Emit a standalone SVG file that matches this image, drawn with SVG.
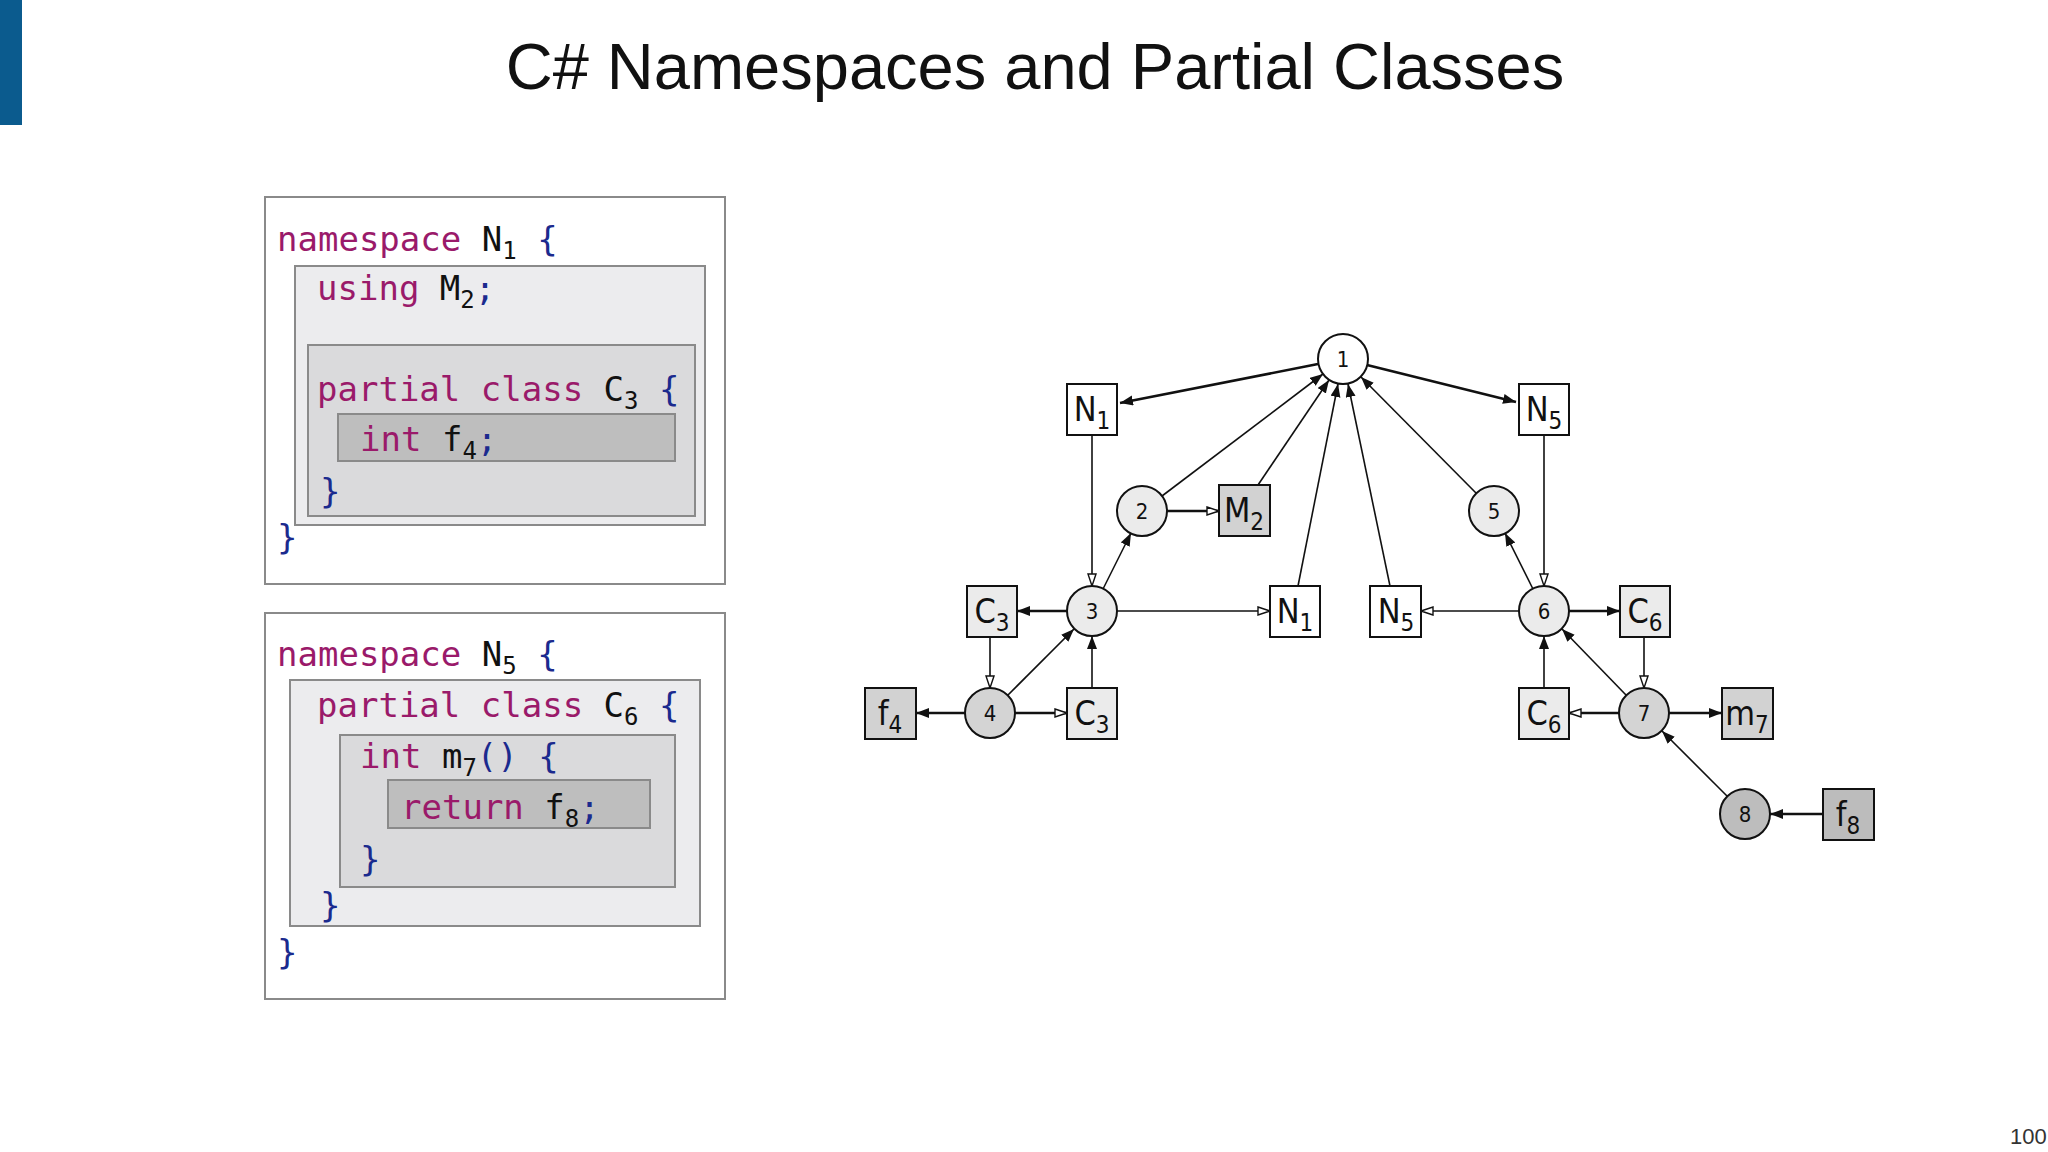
<svg xmlns="http://www.w3.org/2000/svg" width="2048" height="1152" viewBox="0 0 2048 1152">
<style>
.code{font-family:"DejaVu Sans Mono","Liberation Mono",monospace;font-size:34px}
.kw{fill:#9a1a6a}.br{fill:#1b2a8e}.id{fill:#111}
.sub{font-size:24px}
.box{stroke:#8a8a8a;stroke-width:2}
.n{stroke:#111;stroke-width:2}
.lbl{font-family:"DejaVu Sans Condensed","DejaVu Sans",sans-serif;font-size:34px;fill:#111;text-anchor:middle}
.num{font-family:"DejaVu Sans Condensed","DejaVu Sans",sans-serif;font-size:22px;fill:#111;text-anchor:middle}
.e{stroke:#111;stroke-width:1.6;fill:none}
.b{stroke-width:2.6}
.f{marker-end:url(#fa)}.o{marker-end:url(#oa)}
</style>
<defs>
<marker id="fa" markerUnits="userSpaceOnUse" markerWidth="14" markerHeight="12" refX="13" refY="5" orient="auto"><path d="M0,0 L13,5 L0,10 Z" fill="#111"/></marker>
<marker id="oa" markerUnits="userSpaceOnUse" markerWidth="14" markerHeight="12" refX="13" refY="5" orient="auto"><path d="M1,1 L13,5 L1,9 Z" fill="#fff" stroke="#111" stroke-width="1.4"/></marker>
</defs>
<rect width="2048" height="1152" fill="#fff"/>
<rect x="0" y="0" width="22" height="125" fill="#0b5b8e"/>
<text x="1035" y="89" font-family="Liberation Sans,Arial,sans-serif" font-size="65" text-anchor="middle" fill="#111">C# Namespaces and Partial Classes</text>
<text x="2010" y="1144" font-family="Liberation Sans,Arial,sans-serif" font-size="22" fill="#333">100</text>

<g id="code1">
<rect class="box" x="265" y="197" width="460" height="387" fill="#fff"/>
<rect class="box" x="295" y="266" width="410" height="259" fill="#ececee"/>
<rect class="box" x="308" y="345" width="387" height="171" fill="#dadadc"/>
<rect class="box" x="338" y="414" width="337" height="47" fill="#bebebe"/>
<text class="code" x="277" y="251"><tspan class="kw">namespace</tspan> <tspan class="id">N</tspan><tspan class="id sub" dy="8">1</tspan><tspan class="br" dy="-8"> {</tspan></text>
<text class="code" x="317" y="300"><tspan class="kw">using</tspan> <tspan class="id">M</tspan><tspan class="id sub" dy="8">2</tspan><tspan class="br" dy="-8">;</tspan></text>
<text class="code" x="317" y="401"><tspan class="kw">partial class</tspan> <tspan class="id">C</tspan><tspan class="id sub" dy="8">3</tspan><tspan class="br" dy="-8"> {</tspan></text>
<text class="code" x="360" y="451"><tspan class="kw">int</tspan> <tspan class="id">f</tspan><tspan class="id sub" dy="8">4</tspan><tspan class="br" dy="-8">;</tspan></text>
<text class="code br" x="320" y="503">}</text>
<text class="code br" x="277" y="549">}</text>
</g>
<g id="code2">
<rect class="box" x="265" y="613" width="460" height="386" fill="#fff"/>
<rect class="box" x="290" y="680" width="410" height="246" fill="#ececee"/>
<rect class="box" x="340" y="735" width="335" height="152" fill="#dadadc"/>
<rect class="box" x="388" y="780" width="262" height="48" fill="#bebebe"/>
<text class="code" x="277" y="666"><tspan class="kw">namespace</tspan> <tspan class="id">N</tspan><tspan class="id sub" dy="8">5</tspan><tspan class="br" dy="-8"> {</tspan></text>
<text class="code" x="317" y="717"><tspan class="kw">partial class</tspan> <tspan class="id">C</tspan><tspan class="id sub" dy="8">6</tspan><tspan class="br" dy="-8"> {</tspan></text>
<text class="code" x="360" y="768"><tspan class="kw">int</tspan> <tspan class="id">m</tspan><tspan class="id sub" dy="8">7</tspan><tspan class="br" dy="-8">() {</tspan></text>
<text class="code" x="401" y="819"><tspan class="kw">return</tspan> <tspan class="id">f</tspan><tspan class="id sub" dy="8">8</tspan><tspan class="br" dy="-8">;</tspan></text>
<text class="code br" x="360" y="871">}</text>
<text class="code br" x="320" y="917">}</text>
<text class="code br" x="277" y="964">}</text>
</g>

<g id="edges">
<line class="e b f" x1="1318" y1="364" x2="1120" y2="403"/>
<line class="e b f" x1="1367" y1="365" x2="1516" y2="402"/>
<line class="e f" x1="1162" y1="496" x2="1323" y2="374"/>
<line class="e f" x1="1258" y1="485" x2="1329" y2="380"/>
<line class="e f" x1="1298" y1="586" x2="1338" y2="384"/>
<line class="e f" x1="1390" y1="586" x2="1348" y2="384"/>
<line class="e f" x1="1476" y1="493" x2="1361" y2="377"/>
<line class="e o" x1="1092" y1="435" x2="1092" y2="586"/>
<line class="e o" x1="1544" y1="435" x2="1544" y2="586"/>
<line class="e f" x1="1103" y1="589" x2="1131" y2="533"/>
<line class="e f" x1="1533" y1="589" x2="1505" y2="533"/>
<line class="e b o" x1="1167" y1="511" x2="1219" y2="511"/>
<line class="e b f" x1="1067" y1="611" x2="1017" y2="611"/>
<line class="e o" x1="1117" y1="611" x2="1270" y2="611"/>
<line class="e o" x1="1519" y1="611" x2="1421" y2="611"/>
<line class="e b f" x1="1569" y1="611" x2="1620" y2="611"/>
<line class="e o" x1="990" y1="637" x2="990" y2="688"/>
<line class="e f" x1="1008" y1="695" x2="1074" y2="629"/>
<line class="e f" x1="1092" y1="688" x2="1092" y2="636"/>
<line class="e b f" x1="965" y1="713" x2="916" y2="713"/>
<line class="e b o" x1="1015" y1="713" x2="1067" y2="713"/>
<line class="e o" x1="1644" y1="637" x2="1644" y2="688"/>
<line class="e f" x1="1544" y1="688" x2="1544" y2="636"/>
<line class="e f" x1="1626" y1="695" x2="1562" y2="629"/>
<line class="e b o" x1="1619" y1="713" x2="1569" y2="713"/>
<line class="e b f" x1="1669" y1="713" x2="1722" y2="713"/>
<line class="e f" x1="1727" y1="796" x2="1662" y2="731"/>
<line class="e b f" x1="1823" y1="814" x2="1770" y2="814"/>
</g>

<g id="n1"><circle class="n" cx="1343" cy="359" r="25" fill="#fff"/><text class="num" x="1343" y="367">1</text></g>
<g id="N1top"><rect class="n" x="1067" y="384" width="50" height="51" fill="#fff"/><text class="lbl" x="1092" y="421">N<tspan class="sub" dy="8">1</tspan></text></g>
<g id="N5top"><rect class="n" x="1519" y="384" width="50" height="51" fill="#fff"/><text class="lbl" x="1544" y="421">N<tspan class="sub" dy="8">5</tspan></text></g>
<g id="n2"><circle class="n" cx="1142" cy="511" r="25" fill="#ebebeb"/><text class="num" x="1142" y="519">2</text></g>
<g id="M2"><rect class="n" x="1219" y="485" width="51" height="51" fill="#d2d2d2"/><text class="lbl" x="1244" y="522">M<tspan class="sub" dy="8">2</tspan></text></g>
<g id="n5"><circle class="n" cx="1494" cy="511" r="25" fill="#ebebeb"/><text class="num" x="1494" y="519">5</text></g>
<g id="n3"><circle class="n" cx="1092" cy="611" r="25" fill="#ebebeb"/><text class="num" x="1092" y="619">3</text></g>
<g id="C3a"><rect class="n" x="967" y="586" width="50" height="51" fill="#ebebeb"/><text class="lbl" x="992" y="623">C<tspan class="sub" dy="8">3</tspan></text></g>
<g id="N1mid"><rect class="n" x="1270" y="586" width="50" height="51" fill="#fff"/><text class="lbl" x="1295" y="623">N<tspan class="sub" dy="8">1</tspan></text></g>
<g id="N5mid"><rect class="n" x="1370" y="586" width="51" height="51" fill="#fff"/><text class="lbl" x="1396" y="623">N<tspan class="sub" dy="8">5</tspan></text></g>
<g id="n6"><circle class="n" cx="1544" cy="611" r="25" fill="#ebebeb"/><text class="num" x="1544" y="619">6</text></g>
<g id="C6a"><rect class="n" x="1620" y="586" width="50" height="51" fill="#ebebeb"/><text class="lbl" x="1645" y="623">C<tspan class="sub" dy="8">6</tspan></text></g>
<g id="n4"><circle class="n" cx="990" cy="713" r="25" fill="#d4d4d4"/><text class="num" x="990" y="721">4</text></g>
<g id="f4"><rect class="n" x="865" y="688" width="51" height="51" fill="#d2d2d2"/><text class="lbl" x="890" y="725">f<tspan class="sub" dy="8">4</tspan></text></g>
<g id="C3b"><rect class="n" x="1067" y="688" width="50" height="51" fill="#ebebeb"/><text class="lbl" x="1092" y="725">C<tspan class="sub" dy="8">3</tspan></text></g>
<g id="C6b"><rect class="n" x="1519" y="688" width="50" height="51" fill="#ebebeb"/><text class="lbl" x="1544" y="725">C<tspan class="sub" dy="8">6</tspan></text></g>
<g id="n7"><circle class="n" cx="1644" cy="713" r="25" fill="#d4d4d4"/><text class="num" x="1644" y="721">7</text></g>
<g id="m7"><rect class="n" x="1722" y="688" width="51" height="51" fill="#d2d2d2"/><text class="lbl" x="1747" y="725">m<tspan class="sub" dy="8">7</tspan></text></g>
<g id="n8"><circle class="n" cx="1745" cy="814" r="25" fill="#bdbdbd"/><text class="num" x="1745" y="822">8</text></g>
<g id="f8"><rect class="n" x="1823" y="789" width="51" height="51" fill="#bcbcbc"/><text class="lbl" x="1848" y="826">f<tspan class="sub" dy="8">8</tspan></text></g>
</svg>
